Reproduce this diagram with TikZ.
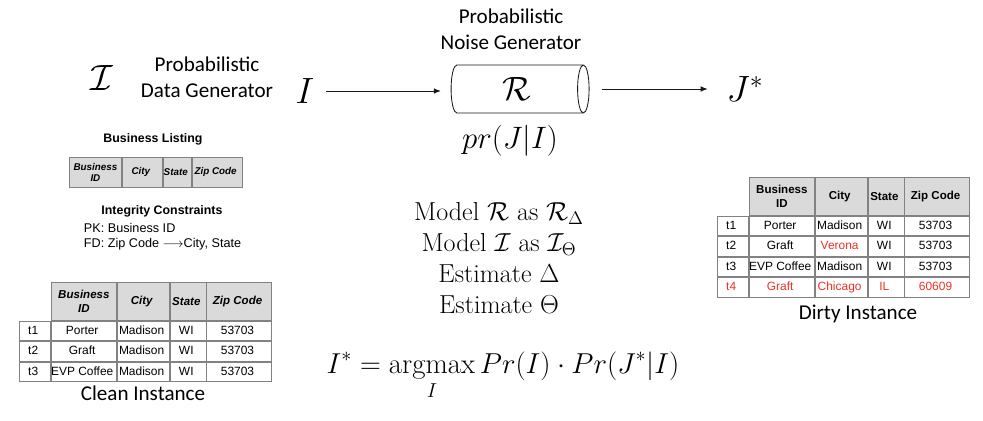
\RequirePackage{fix-cm}
\documentclass[tikz,border=0pt]{standalone}
\usepackage{amsmath}
\usepackage{fontspec}
\usepackage{tikz}
\usetikzlibrary{shapes.geometric, arrows.meta, positioning, matrix}
\newfontfamily\calibri{Carlito}
\newfontfamily\arial{Liberation Sans}
\definecolor{mydark}{RGB}{25,25,25}
\definecolor{tabline}{RGB}{130,130,130}
\definecolor{tabhead}{RGB}{218,218,218}
\definecolor{errred}{RGB}{235,50,35}
\tikzset{
  gentext/.style={align=center, font=\calibri\fontsize{15}{18.5}\selectfont},
  mathbig/.style={font=\fontsize{26}{30}\selectfont},
  mathtext/.style={align=center, font=\fontsize{18.5}{22}\selectfont},
  noisebox/.style={cylinder, draw=mydark, line width=0.6pt, shape border rotate=0,
    minimum height=3.45cm, minimum width=1.2cm, aspect=0.5, inner sep=0pt,
    font=\fontsize{24}{26}\selectfont},
  arrow/.style={-{Latex[length=5pt, width=4pt]}, line width=0.6pt, color=mydark},
  tabtitle/.style={font=\arial\bfseries\fontsize{8.8}{10}\selectfont},
  ictext/.style={align=left, font=\arial\fontsize{9}{10.5}\selectfont},
  cell/.style={rectangle, draw=tabline, line width=0.6pt, inner sep=0pt, outer sep=0pt,
    anchor=center, align=center, minimum height=0.49cm, text height=6.2pt, text depth=1.8pt,
    font=\arial\fontsize{8.5}{10}\selectfont},
  headcell/.style={fill=tabhead, minimum height=0.95cm, text height=, text depth=,
    font=\arial\bfseries\fontsize{8.2}{9.5}\selectfont},
  headital/.style={headcell, font=\arial\bfseries\itshape\fontsize{8.2}{9.5}\selectfont},
  datatable/.style={matrix of nodes, nodes={cell}, column sep=0pt, row sep=0pt,
    inner sep=0pt, outer sep=0pt, anchor=north west},
  instcols/.style={column 1/.style={nodes={minimum width=0.77cm}},
    column 2/.style={nodes={minimum width=1.63cm}},
    column 3/.style={nodes={minimum width=1.29cm}},
    column 4/.style={nodes={minimum width=0.9cm}},
    column 5/.style={nodes={minimum width=1.62cm}}}
}

\begin{document}
\begin{tikzpicture}[x=0.025cm, y=-0.025cm]
  \useasboundingbox (0,0) rectangle (983,420);

  % generator chain
  \node[mathbig] (calI) at (102,78) {$\mathcal{I}$};
  \node[gentext] (datagen) at (207,77) {Probabilistic\\Data Generator};
  \node[mathbig] (I) at (305,91) {$I$};
  \node[noisebox] (noise) at (517,89) {$\mathcal{R}$};
  \node[gentext] (noisegen) at (511,29) {Probabilistic\\Noise Generator};
  \node[font=\fontsize{22}{26}\selectfont] (prJI) at (510,141) {$pr(J|I)$};
  \node[mathbig] (jstar) at (745,89) {$J^*$};

  \draw[arrow, shorten <=5pt, shorten >=7pt] (I.east) -- (I.east -| noise.west);
  \draw[arrow, shorten <=9pt, shorten >=10pt] (noise.east) -- (noise.east -| jstar.west);

  % schema and constraints
  \node[tabtitle] (listtitle) at (153,139) {Business Listing};
  \matrix (schema) [datatable, row 1/.style={nodes={fill=tabhead, minimum height=0.75cm,
      text height=, text depth=, font=\arial\bfseries\itshape\fontsize{7}{8}\selectfont}},
    column 1/.style={nodes={minimum width=1.3cm}}, column 2/.style={nodes={minimum width=1cm}},
    column 3/.style={nodes={minimum width=0.7cm}}, column 4/.style={nodes={minimum width=1.25cm}}]
    at (69,157) {
    |[text width=1.15cm]| Business ID & City & State & Zip Code \\
  };
  \node[tabtitle] (ictitle) at (162,211) {Integrity Constraints};
  \node[ictext, anchor=west] (ic) at (79,237) {PK: Business ID\\FD: Zip Code $\longrightarrow$City, State};

  % clean instance
  \matrix (clean) [datatable, instcols, row 1/.style={nodes={headital}}] at (19,282) {
       & |[text width=1.35cm]| Business ID & City & State & Zip Code \\
    t1 & Porter & Madison & WI & 53703 \\
    t2 & Graft & Madison & WI & 53703 \\
    t3 & EVP Coffee & Madison & WI & 53703 \\
  };
  \node[gentext] (cleanlbl) at (143,393) {Clean Instance};

  % dirty instance
  \matrix (dirty) [datatable, instcols, row 1/.style={nodes={headcell}},
    row 5/.style={nodes={text=errred}}] at (717,177) {
       & |[text width=1.35cm]| Business ID & City & State & Zip Code \\
    t1 & Porter & Madison & WI & 53703 \\
    t2 & Graft & |[text=errred]| Verona & WI & 53703 \\
    t3 & EVP Coffee & Madison & WI & 53703 \\
    t4 & Graft & Chicago & IL & 60609 \\
  };
  \node[gentext] (dirtylbl) at (858,314) {Dirty Instance};

  % model and inference
  \node[mathtext] (model) at (499,258) {Model $\mathcal{R}$ as $\mathcal{R}_\Delta$\\Model $\mathcal{I}$ as $\mathcal{I}_\Theta$\\Estimate $\Delta$\\Estimate $\Theta$};
  \node[mathtext, font=\fontsize{20.5}{24}\selectfont, anchor=base] (argmax) at (503,373) {$\displaystyle I^* = \operatorname*{argmax}_I Pr(I)\cdot Pr(J^*|I)$};
\end{tikzpicture}
\end{document}
